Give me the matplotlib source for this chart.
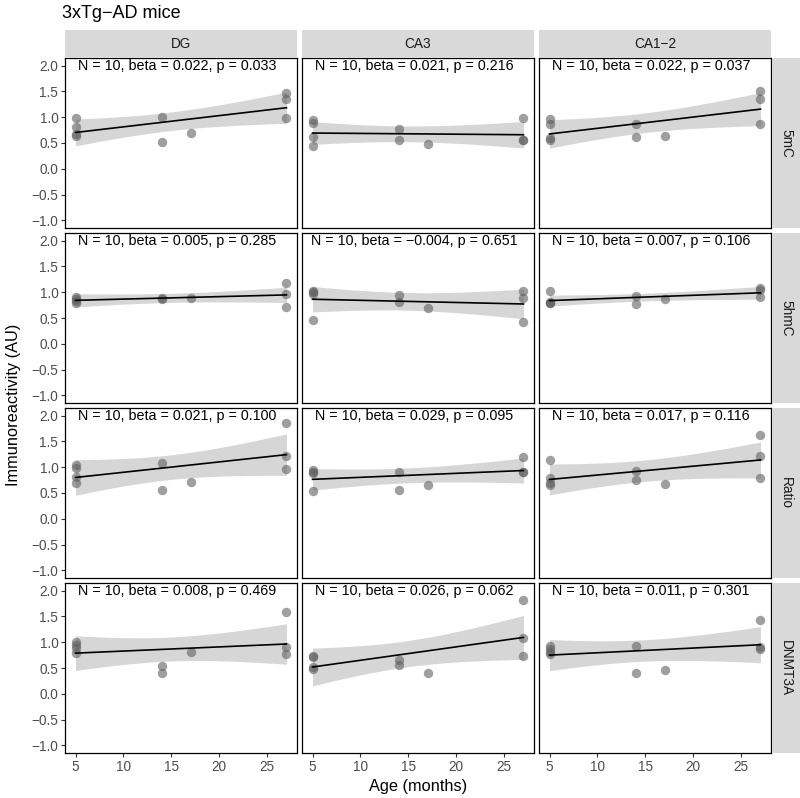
import numpy as np
import matplotlib
matplotlib.use("Agg")
import matplotlib.pyplot as plt
from matplotlib.patches import Rectangle

plt.rcParams["font.family"] = ["Liberation Sans", "DejaVu Sans"]

# ---------------- data ----------------
title = "3xTg\u2212AD mice"
regions = ["DG", "CA3", "CA1\u22122"]
markers = ["5mC", "5hmC", "Ratio", "DNMT3A"]
ages = [5, 5, 5, 5, 14, 14, 17, 27, 27, 27]

mc5_dg = [0.98, 0.82, 0.67, 0.64, 1.00, 0.52, 0.69, 1.48, 1.36, 0.98]
mc5_ca3 = [0.94, 0.88, 0.61, 0.44, 0.78, 0.56, 0.49, 0.98, 0.55, 0.56]
mc5_ca12 = [0.97, 0.87, 0.59, 0.56, 0.87, 0.62, 0.64, 1.51, 1.36, 0.87]

hmc5_dg = [0.90, 0.86, 0.83, 0.80, 0.88, 0.87, 0.89, 1.18, 0.97, 0.71]
hmc5_ca3 = [1.02, 1.00, 0.97, 0.46, 0.94, 0.82, 0.69, 1.03, 0.88, 0.43]
hmc5_ca12 = [1.03, 0.82, 0.80, 0.79, 0.92, 0.77, 0.87, 1.09, 1.05, 0.90]

ratio_dg = [1.05, 0.98, 0.82, 0.69, 1.09, 0.56, 0.72, 1.86, 1.21, 0.97]
ratio_ca3 = [0.95, 0.91, 0.88, 0.54, 0.90, 0.56, 0.65, 1.20, 0.90, 0.91]
ratio_ca12 = [1.15, 0.79, 0.69, 0.65, 0.92, 0.76, 0.67, 1.63, 1.22, 0.80]

dnmt_dg = [1.01, 0.95, 0.88, 0.80, 0.54, 0.41, 0.82, 1.58, 0.90, 0.77]
dnmt_ca3 = [0.73, 0.71, 0.51, 0.49, 0.66, 0.56, 0.41, 1.82, 1.08, 0.73]
dnmt_ca12 = [0.92, 0.86, 0.82, 0.78, 0.93, 0.40, 0.46, 1.44, 0.90, 0.87]

panel_values = [
    [mc5_dg, mc5_ca3, mc5_ca12],
    [hmc5_dg, hmc5_ca3, hmc5_ca12],
    [ratio_dg, ratio_ca3, ratio_ca12],
    [dnmt_dg, dnmt_ca3, dnmt_ca12],
]

labels_5mc = ["N = 10, beta = 0.022, p = 0.033",
              "N = 10, beta = 0.021, p = 0.216",
              "N = 10, beta = 0.022, p = 0.037"]
labels_5hmc = ["N = 10, beta = 0.005, p = 0.285",
               "N = 10, beta = \u22120.004, p = 0.651",
               "N = 10, beta = 0.007, p = 0.106"]
labels_ratio = ["N = 10, beta = 0.021, p = 0.100",
                "N = 10, beta = 0.029, p = 0.095",
                "N = 10, beta = 0.017, p = 0.116"]
labels_dnmt = ["N = 10, beta = 0.008, p = 0.469",
               "N = 10, beta = 0.026, p = 0.062",
               "N = 10, beta = 0.011, p = 0.301"]
panel_labels = [labels_5mc, labels_5hmc, labels_ratio, labels_dnmt]

yticks = [-1.0, -0.5, 0.0, 0.5, 1.0, 1.5, 2.0]
ytick_labels = ["\u22121.0", "\u22120.5", "0.0", "0.5", "1.0", "1.5", "2.0"]
xticks = [5, 10, 15, 20, 25]
xtick_labels = ["5", "10", "15", "20", "25"]

# ---------------- layout (pixels) ----------------
W, H = 800, 798
fig = plt.figure(figsize=(W / 100, H / 100), dpi=100)

col_x = [65, 302, 539]
col_w = 232
row_y = [58, 233, 408, 583]
row_h = 170
strip_top_y, strip_h = 30, 28
strip_right_x, strip_w = 772, 28

def fax(x, y, w, h):
    return fig.add_axes([x / W, 1 - (y + h) / H, w / W, h / H])

t_crit = 2.306  # 95% t quantile, df = 8
x_arr = np.array(ages, dtype=float)

for r in range(4):
    for c in range(3):
        ax = fax(col_x[c], row_y[r], col_w, row_h)
        y_arr = np.array(panel_values[r][c], dtype=float)
        # linear fit + confidence band
        slope, intercept = np.polyfit(x_arr, y_arr, 1)
        n = len(x_arr)
        resid = y_arr - (slope * x_arr + intercept)
        s = np.sqrt(np.sum(resid ** 2) / (n - 2))
        xbar = x_arr.mean()
        sxx = np.sum((x_arr - xbar) ** 2)
        xs = np.linspace(x_arr.min(), x_arr.max(), 80)
        yfit = slope * xs + intercept
        se = s * np.sqrt(1 / n + (xs - xbar) ** 2 / sxx)
        ax.fill_between(xs, yfit - t_crit * se, yfit + t_crit * se,
                        color="#999999", alpha=0.4, linewidth=0, zorder=1)
        ax.scatter(x_arr, y_arr, s=46, color="#606060", alpha=0.6,
                   linewidths=0, zorder=2)
        ax.plot(xs, yfit, color="black", lw=1.2, zorder=3)
        ax.text(15.6, 2.0, panel_labels[r][c], ha="center", va="center",
                fontsize=10.3, color="black", zorder=4)
        ax.set_xlim(3.9, 28.1)
        ax.set_ylim(-1.15, 2.15)
        ax.set_facecolor("white")
        for sp in ax.spines.values():
            sp.set_color("black")
            sp.set_linewidth(0.9)
        ax.tick_params(length=2.8, width=0.8, color="#333333",
                       labelsize=9.8, labelcolor="#4D4D4D", pad=2)
        ax.set_yticks(yticks)
        ax.set_xticks(xticks)
        if c == 0:
            ax.set_yticklabels(ytick_labels)
        else:
            ax.tick_params(axis="y", left=False, labelleft=False)
        if r == 3:
            ax.set_xticklabels(xtick_labels)
        else:
            ax.tick_params(axis="x", bottom=False, labelbottom=False)

# top strips
for c in range(3):
    sax = fax(col_x[c], strip_top_y, col_w, strip_h)
    sax.set_axis_off()
    sax.add_patch(Rectangle((0, 0), 1, 1, transform=sax.transAxes,
                            facecolor="#D9D9D9", edgecolor="none"))
    sax.text(0.5, 0.5, regions[c], ha="center", va="center",
             fontsize=9.8, color="#1A1A1A", transform=sax.transAxes)

# right strips
for r in range(4):
    sax = fax(strip_right_x, row_y[r], strip_w, row_h)
    sax.set_axis_off()
    sax.add_patch(Rectangle((0, 0), 1, 1, transform=sax.transAxes,
                            facecolor="#D9D9D9", edgecolor="none"))
    sax.text(0.5, 0.5, markers[r], ha="center", va="center", rotation=270,
             fontsize=9.8, color="#1A1A1A", transform=sax.transAxes)

# titles
fig.text(62 / W, 1 - 13 / H, title, ha="left", va="center",
         fontsize=13, color="black")
fig.text(418 / W, 1 - 787 / H, "Age (months)", ha="center", va="center",
         fontsize=11.8, color="black")
fig.text(14 / W, 1 - 405 / H, "Immunoreactivity (AU)", ha="center",
         va="center", rotation=90, fontsize=11.8, color="black")

fig.savefig("out.png", dpi=100, facecolor="white")
